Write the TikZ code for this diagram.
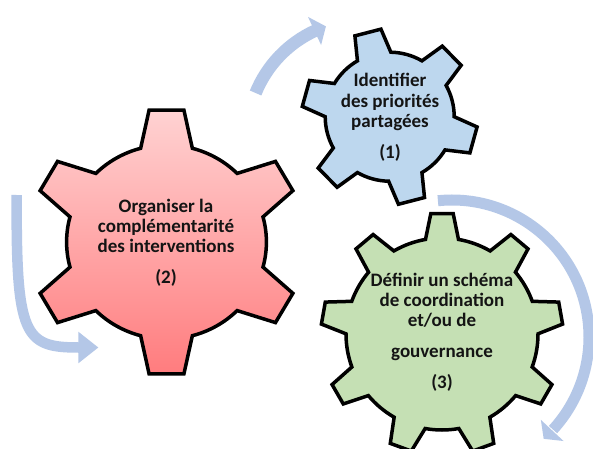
\documentclass[tikz,border=0pt]{standalone}
\usepackage{fontspec}
\setmainfont{Carlito}
\definecolor{arrowblue}{RGB}{180,199,231}
\definecolor{gblue}{RGB}{189,215,238}
\definecolor{ggreen}{RGB}{197,224,180}
\definecolor{redtop}{RGB}{255,210,210}
\definecolor{redbot}{RGB}{255,124,126}
\definecolor{txt}{RGB}{20,20,20}
\tikzset{
  gearline/.style={draw=black, line width=3.5pt, line join=miter},
  band/.style={draw=arrowblue, line cap=butt},
  arrowhead/.style={fill=arrowblue, draw=none},
  lbl/.style={font=\fontsize{19}{21}\selectfont\bfseries, anchor=base, inner sep=0pt, text=txt},
}
% #1 options, #2 teeth, #3 first tooth angle, #4 outer radius, #5 root radius,
% #6 tip half angle, #7 root half angle
\newcommand\gearshape[7]{%
  \path[#1] ({#3-#7}:#5)
    \foreach \k [evaluate=\k as \gth using {#3+(\k-1)*360/#2}] in {1,...,#2} {
      -- ({\gth-#6}:#4) -- ({\gth+#6}:#4) -- ({\gth+#7}:#5)
      arc[start angle={\gth+#7}, end angle={\gth+360/#2-#7}, radius=#5]
    } -- cycle;
}
\begin{document}
\begin{tikzpicture}[x=1pt,y=1pt]
\clip (0,0) rectangle (593,448);
\fill[white] (0,0) rectangle (593,448);

% arrow A (top, towards gear 1)
\coordinate (cA) at (364,311);
\coordinate (aT) at ([shift={(157.9:117)}]cA);
\coordinate (aB1) at ([shift={(115:101.5)}]cA);
\coordinate (aB2) at ([shift={(115:132.5)}]cA);
\coordinate (aH) at ([shift={(109:117)}]cA);
\draw[band, line width=12.5pt] (aT) arc[start angle=157.9, end angle=114.5, radius=117];
\fill[arrowhead] (aB1) -- (aH) -- (aB2) -- cycle;

% arrow B (right, towards bottom)
\coordinate (cB) at (452,111);
\coordinate (bT) at ([shift={(95.9:137)}]cB);
\coordinate (bB1) at ([shift={(-43:121.5)}]cB);
\coordinate (bB2) at ([shift={(-43:152.5)}]cB);
\coordinate (bH) at ([shift={(-48:137)}]cB);
\draw[band, line width=11pt] (bT) arc[start angle=95.9, end angle=-42.5, radius=137];
\fill[arrowhead] (bB1) -- (bH) -- (bB2) -- cycle;

% arrow C (left, towards gear 2)
\coordinate (lT) at (16.7,253);
\coordinate (lE) at (78.8,100.5);
\coordinate (lB1) at (78.3,116.3);
\coordinate (lB2) at (78.3,84.7);
\coordinate (lH) at (98.3,100.5);
\draw[band, line width=10.5pt] (lT) .. controls (16,112) and (24,100.5) .. (lE);
\fill[arrowhead] (lB1) -- (lH) -- (lB2) -- cycle;

% gear 2 (red)
\begin{scope}[shift={(166.5,206)}, xscale=1.03]
  \gearshape{gearline, top color=redtop, bottom color=redbot}{6}{90}{133}{97}{7.3}{15}
\end{scope}
% gear 1 (blue)
\begin{scope}[shift={(389.7,331.3)}]
  \gearshape{gearline, fill=gblue}{6}{104.5}{88}{64.5}{8.8}{15.5}
\end{scope}
% gear 3 (green)
\begin{scope}[shift={(442,114)}]
  \gearshape{gearline, fill=ggreen}{9}{90}{121}{96}{5.3}{9.9}
\end{scope}

% texts
\node[lbl] (r1) at (166,235.8) {Organiser la};
\node[lbl] (r2) at (166,215.4) {complémentarité};
\node[lbl] (r3) at (166,195.4) {des interventions};
\node[lbl] (rn) at (166,164.2) {(2)};

\node[lbl] (b1) at (390,361.4) {Identifier};
\node[lbl] (b2) at (390,340.8) {des priorités};
\node[lbl] (b3) at (390,320.6) {partagées};
\node[lbl] (bn) at (390,289.2) {(1)};

\node[lbl] (g1) at (442,161.4) {Définir un schéma};
\node[lbl] (g2) at (442,141.4) {de coordination};
\node[lbl] (g3) at (442,121.4) {et/ou de};
\node[lbl] (g4) at (442,90.4) {gouvernance};
\node[lbl] (gn) at (442,59.8) {(3)};
\end{tikzpicture}
\end{document}
